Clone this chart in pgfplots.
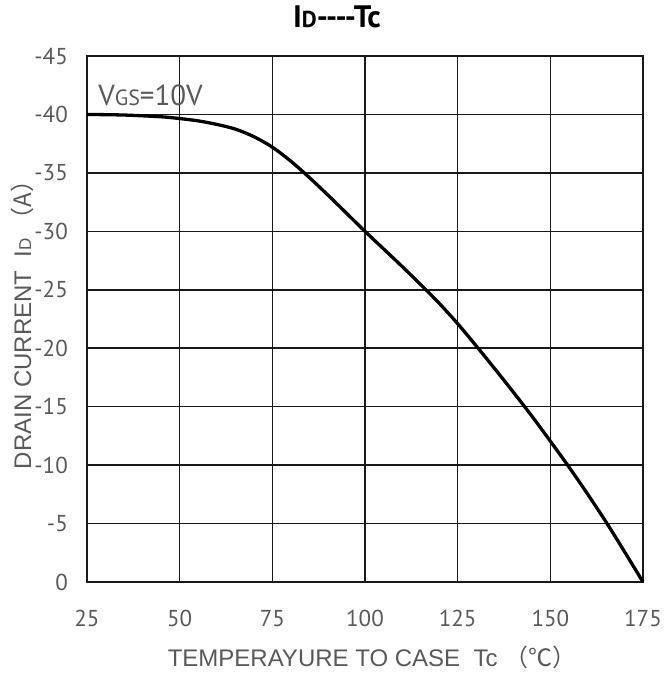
\documentclass[border=0pt]{standalone}
\usepackage{pgfplots}
\pgfplotsset{compat=1.18}
\usepackage{fontspec}
\setmainfont{Liberation Sans}
\newfontfamily\ptsans{PT Sans}
\newfontfamily\cjk{Noto Sans CJK SC}
\definecolor{txtgray}{HTML}{595959}

\begin{document}
\begin{tikzpicture}
\path[use as bounding box] (-87pt,-93pt) rectangle (577pt,582pt);
\begin{axis}[
    scale only axis,
    width=556pt, height=526pt,
    at={(0,0)}, anchor=south west,
    xmin=25, xmax=175,
    ymin=-45, ymax=0,
    y dir=reverse,
    xtick={25,50,...,175},
    ytick={-45,-40,-35,-30,-25,-20,-15,-10,-5,0},
    yticklabels={-45,-40,-35,-30,-25,-20,-15,-10,-5,0},
    xticklabels={25,50,75,100,125,150,175},
    major tick length=0pt,
    grid=major,
    grid style={black!90, line width=1.5pt},
    axis line style={black!90, line width=1.6pt},
    tick label style={font=\ptsans\fontsize{23}{23}\selectfont, text=txtgray},
    xticklabel style={anchor=north, inner sep=0pt, yshift=-28pt},
    yticklabel style={anchor=east, inner sep=0pt, xshift=-19pt},
    xlabel={TEMPERAYURE TO CASE\ \ Tc\ {\cjk （℃）}},
    ylabel={DRAIN CURRENT\ \ I{\fontsize{17}{17}\selectfont D}\ {\cjk （A）}},
    label style={font=\fontsize{24}{24}\selectfont, text=txtgray},
    xlabel style={at={(axis description cs:0.5126,-0.1426)}, anchor=center},
    ylabel style={at={(axis description cs:-0.1169,0.5)}, anchor=center},
    title={I{\fontsize{23}{23}\selectfont D}----Tc},
    title style={font=\ptsans\bfseries\fontsize{31}{31}\selectfont, text=black,
                 at={(axis description cs:0.4496,1.0627)}, anchor=center},
    clip=false,
]
\addplot[black, line width=3.3pt, smooth] coordinates {
(25,-40.0) (35,-39.95) (45,-39.8) (50,-39.65) (55,-39.45) (60,-39.15)
(65,-38.75) (70,-38.1) (75,-37.2) (80,-36.0) (85,-34.6) (90,-33.1)
(95,-31.55) (100,-30.0) (105,-28.5) (110,-27.0) (115,-25.45) (120,-23.85)
(125,-22.1) (130,-20.2) (135,-18.25) (140,-16.25) (145,-14.2) (150,-12.05)
(155,-9.85) (160,-7.55) (165,-5.15) (170,-2.6) (175,0)};
\node[anchor=base west, inner sep=0pt, text=txtgray,
      font=\ptsans\fontsize{29}{29}\selectfont]
  at (axis cs:28,-40.8) {V{\fontsize{22}{22}\selectfont GS}=10V};
\end{axis}
\end{tikzpicture}
\end{document}
